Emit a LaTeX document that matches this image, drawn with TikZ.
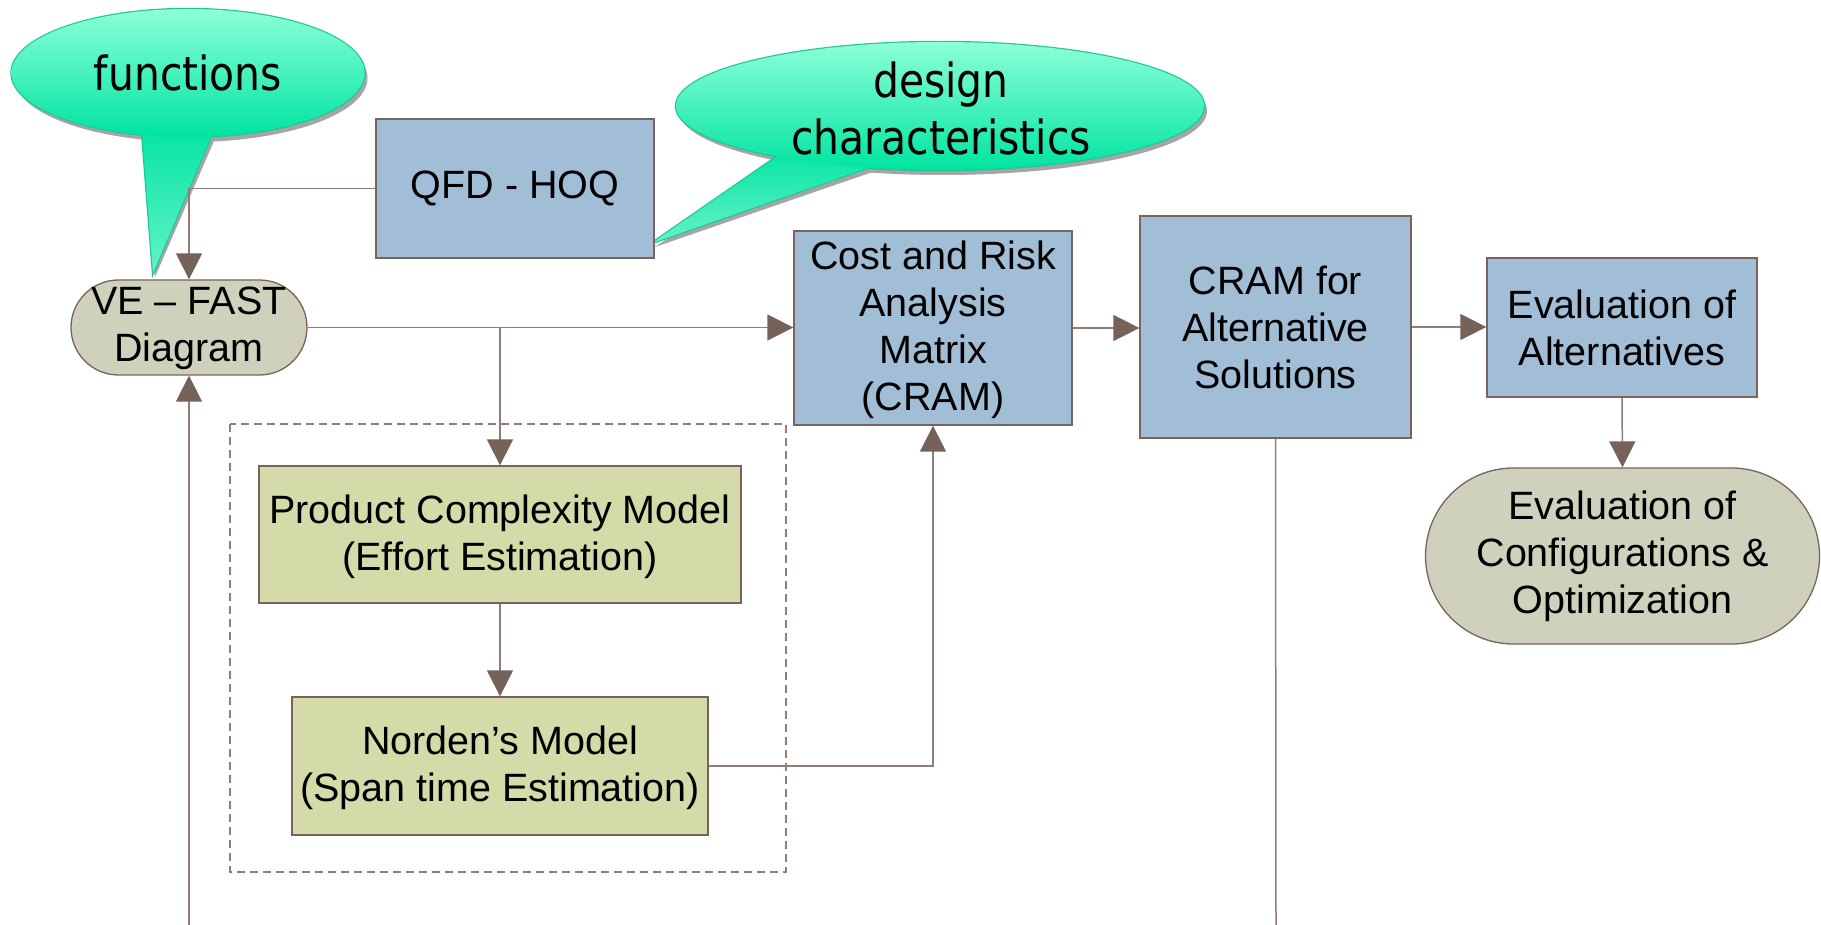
\documentclass[tikz,border=0pt]{standalone}
\usepackage{fontspec}
\setmainfont{Liberation Sans}
\newfontfamily\callfont{DejaVu Sans}[FakeStretch=0.87]
\usetikzlibrary{arrows.meta}
\definecolor{blueproc}{RGB}{161,190,214}
\definecolor{greenproc}{RGB}{212,219,168}
\definecolor{stadc}{RGB}{208,209,188}
\definecolor{edgec}{RGB}{120,100,92}
\definecolor{linec}{RGB}{145,125,118}
\definecolor{arrowc}{RGB}{118,98,88}
\definecolor{mintlight}{RGB}{140,255,218}
\definecolor{mintdark}{RGB}{0,228,160}
\definecolor{minttip}{RGB}{100,242,200}
\definecolor{mintedge}{RGB}{30,200,150}
\definecolor{shadowc}{RGB}{165,165,165}
\newcommand{\boxfont}{\fontsize{39.5}{47}\selectfont}
\newcommand{\callsize}{\callfont\fontsize{47}{57}\selectfont}
\begin{document}
\begin{tikzpicture}[x=1pt,y=-1pt,
  box/.style={draw=edgec, line width=1.3pt, inner sep=0pt, align=center, font=\boxfont},
  bluestep/.style={box, fill=blueproc},
  greenstep/.style={box, fill=greenproc},
  stadium/.style={box, fill=stadc},
  conn/.style={draw=linec, line width=1.5pt, -{Triangle[length=26pt,width=26pt,color=arrowc]}},
  plainline/.style={draw=linec, line width=1.5pt},
  calltext/.style={font=\callsize, align=center, inner sep=0pt},
  boxtext/.style={font=\boxfont, align=center, inner sep=0pt}
]
\useasboundingbox (0,0) rectangle (1821,925);

% ---------- callouts ----------
% functions
\fill[shadowc] (191,78) ellipse [x radius=176.5, y radius=64];
\fill[shadowc] (144,125) -- (221,125) -- (155,277) -- cycle;
\draw[mintedge, line width=2.4pt] (188,73) ellipse [x radius=176.5, y radius=64];
\draw[mintedge, line width=2.4pt, line join=miter] (141,120) -- (218,120) -- (153,273) -- cycle;
\shade[top color=mintdark, bottom color=minttip] (141,120) -- (218,120) -- (153,273) -- cycle;
\shade[top color=mintlight, bottom color=mintdark] (188,73) ellipse [x radius=176.5, y radius=64];
\node[calltext] (fn) at (188,73) {functions};

% design characteristics
\fill[shadowc] (943,111) ellipse [x radius=264, y radius=64];
\fill[shadowc] (655,247) -- (798,149) -- (893,165) -- cycle;
\draw[mintedge, line width=2.4pt] (940,106) ellipse [x radius=264, y radius=64];
\draw[mintedge, line width=2.4pt] (652,243) -- (795,144) -- (890,160) -- cycle;
\shade[top color=mintdark, bottom color=minttip] (652,243) -- (795,144) -- (890,160) -- cycle;
\shade[top color=mintlight, bottom color=mintdark] (940,106) ellipse [x radius=264, y radius=64];
\node[calltext] (dc) at (941,108) {design\\characteristics};

% ---------- dashed group ----------
\draw[linec, line width=1.2pt, dash pattern=on 8pt off 5pt] (230,424) rectangle (786,872);

% ---------- nodes ----------
\node[bluestep, minimum width=278pt, minimum height=139pt] (qfd) at (515,188.5) {QFD - HOQ};
\node[stadium, minimum width=236pt, minimum height=95pt, rounded corners=47.5pt] (ve) at (189,327.5) {};
\node[boxtext] (vet) at (189,328) {VE – FAST\\Diagram};
\node[bluestep, minimum width=278pt, minimum height=194pt] (cost) at (933,328) {};
\node[boxtext] (costt) at (933,330) {Cost and Risk\\Analysis\\Matrix\\(CRAM)};
\node[bluestep, minimum width=271pt, minimum height=222pt] (cram) at (1275.5,327) {CRAM for\\Alternative\\Solutions};
\node[bluestep, minimum width=270pt, minimum height=139pt] (evalt) at (1622,327.5) {Evaluation of\\Alternatives};
\node[stadium, minimum width=394pt, minimum height=176pt, rounded corners=88pt] (evconf) at (1622.5,556) {Evaluation of\\Configurations \&\\Optimization};
\node[greenstep, minimum width=482pt, minimum height=137pt] (prod) at (500,534.5) {};
\node[boxtext] (prodt) at (500,536.5) {Product Complexity Model\\(Effort Estimation)};
\node[greenstep, minimum width=416pt, minimum height=138pt] (nord) at (500,766) {};
\node[boxtext] (nordt) at (500,768) {Norden’s Model\\(Span time Estimation)};

\coordinate (bot1) at (189,925);
\coordinate (bot2) at (1276,925);

% ---------- connectors ----------
\draw[conn] (qfd.west) -- (qfd.west -| ve.north) -- (ve.north);
\draw[conn] (bot1) -- (ve.south);
\draw[conn] (ve.east) -- (ve.east -| cost.west);
\draw[conn] (ve.east -| prod.north) -- (prod.north);
\draw[conn] (prod.south) -- (nord.north);
\draw[conn] (nord.east) -| (cost.south);
\draw[conn] (cost.east) -- (cost.east -| cram.west);
\draw[conn] (cram.east) -- (cram.east -| evalt.west);
\draw[conn] (evalt.south) -- (evconf.north);
\draw[plainline] (cram.south) -- (bot2);
\end{tikzpicture}
\end{document}
